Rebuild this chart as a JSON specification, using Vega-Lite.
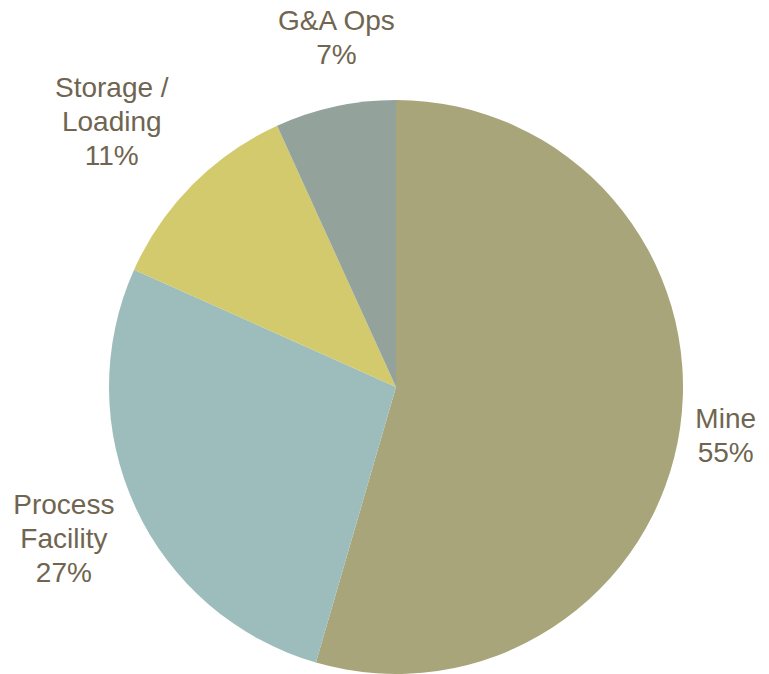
{
  "$schema": "https://vega.github.io/schema/vega-lite/v6.json",
  "width": 746,
  "height": 574,
  "autosize": "none",
  "padding": {"left": 23, "top": 100, "right": 0, "bottom": 0},
  "background": "white",
  "config": {"view": {"stroke": null}},
  "data": {
    "values": [
      {"category": "Mine", "value": 54.5, "label": "Mine\n55%"},
      {"category": "Process Facility", "value": 27.2, "label": "Process\nFacility\n27%"},
      {"category": "Storage / Loading", "value": 11.5, "label": "Storage /\nLoading\n11%"},
      {"category": "G&A Ops", "value": 6.8, "label": "G&A Ops\n7%"}
    ]
  },
  "transform": [
    {"stack": "value", "groupby": [], "sort": [{"field": "value", "order": "descending"}], "as": ["v0", "v1"]},
    {"calculate": "(datum.v0 + datum.v1) / 2", "as": "mid"}
  ],
  "encoding": {
    "color": {
      "field": "category",
      "type": "nominal",
      "scale": {
        "domain": ["Mine", "Process Facility", "Storage / Loading", "G&A Ops"],
        "range": ["#A8A57A", "#9DBDBC", "#D2CA6C", "#93A39B"]
      },
      "legend": null
    }
  },
  "layer": [
    {
      "mark": {"type": "arc", "outerRadius": 287},
      "encoding": {
        "theta": {"field": "v0", "type": "quantitative", "stack": null, "scale": {"domain": [0, 100], "range": [0, 6.283185307179586]}},
        "theta2": {"field": "v1"}
      }
    },
    {
      "transform": [{"filter": "datum.category == 'Mine'"}],
      "mark": {"type": "text", "radius": 333, "dy": -14, "fontSize": 28, "font": "Liberation Sans", "lineBreak": "\n", "lineHeight": 34, "align": "center", "baseline": "middle"},
      "encoding": {"theta": {"field": "mid", "type": "quantitative", "stack": null}, "text": {"field": "label"}, "color": {"value": "#6F6550"}}
    },
    {
      "transform": [{"filter": "datum.category == 'Process Facility'"}],
      "mark": {"type": "text", "radius": 366, "dy": -35, "fontSize": 28, "font": "Liberation Sans", "lineBreak": "\n", "lineHeight": 34, "align": "center", "baseline": "middle"},
      "encoding": {"theta": {"field": "mid", "type": "quantitative", "stack": null}, "text": {"field": "label"}, "color": {"value": "#6F6550"}}
    },
    {
      "transform": [{"filter": "datum.category == 'Storage / Loading'"}],
      "mark": {"type": "text", "radius": 388, "dx": -9, "dy": -25, "fontSize": 28, "font": "Liberation Sans", "lineBreak": "\n", "lineHeight": 34, "align": "center", "baseline": "middle"},
      "encoding": {"theta": {"field": "mid", "type": "quantitative", "stack": null}, "text": {"field": "label"}, "color": {"value": "#6F6550"}}
    },
    {
      "transform": [{"filter": "datum.category == 'G&A Ops'"}],
      "mark": {"type": "text", "radius": 352, "dx": 15, "dy": -21, "fontSize": 28, "font": "Liberation Sans", "lineBreak": "\n", "lineHeight": 34, "align": "center", "baseline": "middle"},
      "encoding": {"theta": {"field": "mid", "type": "quantitative", "stack": null}, "text": {"field": "label"}, "color": {"value": "#6F6550"}}
    }
  ]
}
